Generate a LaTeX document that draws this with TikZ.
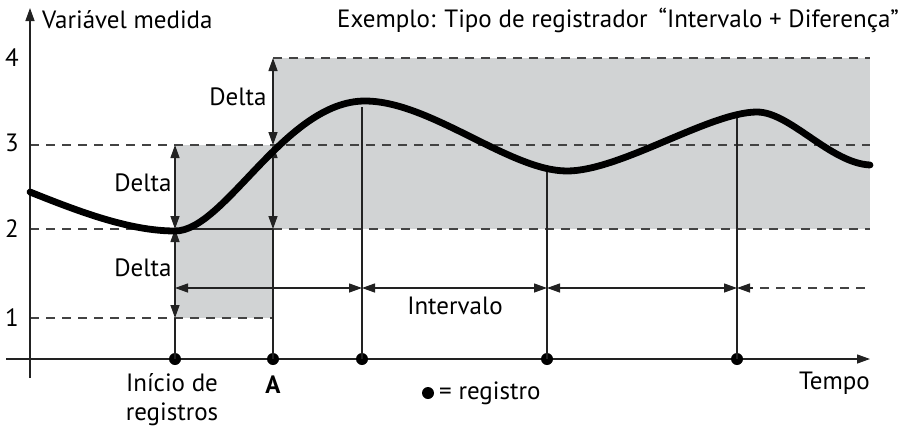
\documentclass[tikz,border=0pt]{standalone}
\usepackage{fontspec}
\setmainfont{PT Sans}
\usetikzlibrary{arrows.meta}
\definecolor{boxgray}{HTML}{D1D3D4}
\definecolor{linec}{HTML}{222222}
\tikzset{
  tip/.tip={Triangle[length=13pt,width=9pt]},
  thin line/.style={line width=1.3pt, draw=linec},
  dashline/.style={line width=1.3pt, draw=linec!85, dash pattern=on 9pt off 7pt},
  dbl/.style={thin line, {tip}-{tip}},
  rec/.style={circle, fill=black, inner sep=0pt, minimum size=12pt},
  lbl/.style={font=\fontsize{25}{30}\selectfont, inner sep=0pt},
  curve/.style={line width=6.8pt, line cap=round},
  graybox/.style={fill=boxgray, draw=none}
}
\begin{document}
\begin{tikzpicture}[x=1pt, y=-1pt]
\useasboundingbox (0,0) rectangle (906,429);
% gray regions
\fill[graybox] (175,145) rectangle (273,318);
\fill[graybox] (273,58) rectangle (870,229);
% coordinates
\coordinate (L4a) at (273,58);  \coordinate (L4b) at (870,58);
\coordinate (L3a) at (30,145);  \coordinate (L3b) at (870,145);
\coordinate (L2a) at (30,229);  \coordinate (L2m) at (175,229);
\coordinate (L2n) at (273,229); \coordinate (L2b) at (870,229);
\coordinate (L1a) at (30,318);  \coordinate (L1b) at (273,318);
\coordinate (D3a) at (175,145); \coordinate (D1a) at (175,318);
\coordinate (D3b) at (273,145);
% dashed levels
\draw[dashline] (L4a) -- (L4b);
\draw[dashline] (L3a) -- (L3b);
\draw[dashline] (L2a) -- (L2m);
\draw[dashline] (L2n) -- (L2b);
\draw[dashline] (L1a) -- (L1b);
\draw[thin line] (L2m) -- (L2n);
% axes
\coordinate (yb) at (30,378); \coordinate (yt) at (30,8);
\coordinate (xl) at (6,359);  \coordinate (xr) at (870,359);
\draw[thin line, -{tip}] (yb) -- (yt);
\draw[thin line, -{tip}] (xl) -- (xr);
% record dots
\node[rec] (r1) at (175,359) {};
\node[rec] (r2) at (273,359) {};
\node[rec] (r3) at (362,359) {};
\node[rec] (r4) at (547,359) {};
\node[rec] (r5) at (737,359) {};
% delta arrows
\draw[dbl] (D3a) -- (L2m);
\draw[dbl] (L2m) -- (D1a);
\draw[thin line] (D1a) -- (r1.center);
\draw[dbl] (L4a) -- (D3b);
\draw[dbl] (D3b) -- (L2n);
\draw[thin line] (L2n) -- (r2.center);
% vertical record lines
\coordinate (c3) at (362,107);
\coordinate (c4) at (547,170);
\coordinate (c5) at (737,118);
\draw[thin line] (c3) -- (r3.center);
\draw[thin line] (c4) -- (r4.center);
\draw[thin line] (c5) -- (r5.center);
% interval arrows
\coordinate (i1) at (175,288); \coordinate (i2) at (362,288);
\coordinate (i3) at (547,288); \coordinate (i4) at (737,288);
\coordinate (i5) at (870,288);
\draw[dbl] (i1) -- (i2);
\draw[dbl] (i2) -- (i3);
\draw[dbl] (i3) -- (i4);
\draw[thin line, {tip}-] (i4) -- ++(16,0) coordinate (i4d);
\draw[dashline] ([xshift=7pt]i4d) -- (i5);
% measured curve
\draw[curve] (30,192) .. controls (80,212) and (130,231) .. (175,231)
  .. controls (225,231) and (285,101) .. (365,101)
  .. controls (430,101) and (510,171) .. (567,171)
  .. controls (620,171) and (710,112) .. (757,112)
  .. controls (790,112) and (830,163) .. (870,165);
% labels
\node[lbl, anchor=west] (ylab) at (42,20) {Variável medida};
\node[lbl, anchor=east] (title) at (899,20) {Exemplo: Tipo de registrador \,“Intervalo + Diferença”};
\node[lbl] (n4) at (12,58) {4};
\node[lbl] (n3) at (12,143) {3};
\node[lbl] (n2) at (12,229) {2};
\node[lbl] (n1) at (12,318) {1};
\node[lbl] (dA) at (238,97) {Delta};
\node[lbl] (dB) at (143,183) {Delta};
\node[lbl] (dC) at (143,268) {Delta};
\node[lbl] (iv) at (455,306) {Intervalo};
\node[lbl, align=center, anchor=north] (ini) at (172,373) {Início de\\[-1pt]registros};
\node[lbl, font=\fontsize{25}{30}\selectfont\bfseries] (Alab) at (273,385) {A};
\node[rec] (legdot) at (428,393) {};
\node[lbl, anchor=west] (leg) at (439,393) {= registro};
\node[lbl, anchor=east] (tempo) at (870,383) {Tempo};
\end{tikzpicture}
\end{document}
